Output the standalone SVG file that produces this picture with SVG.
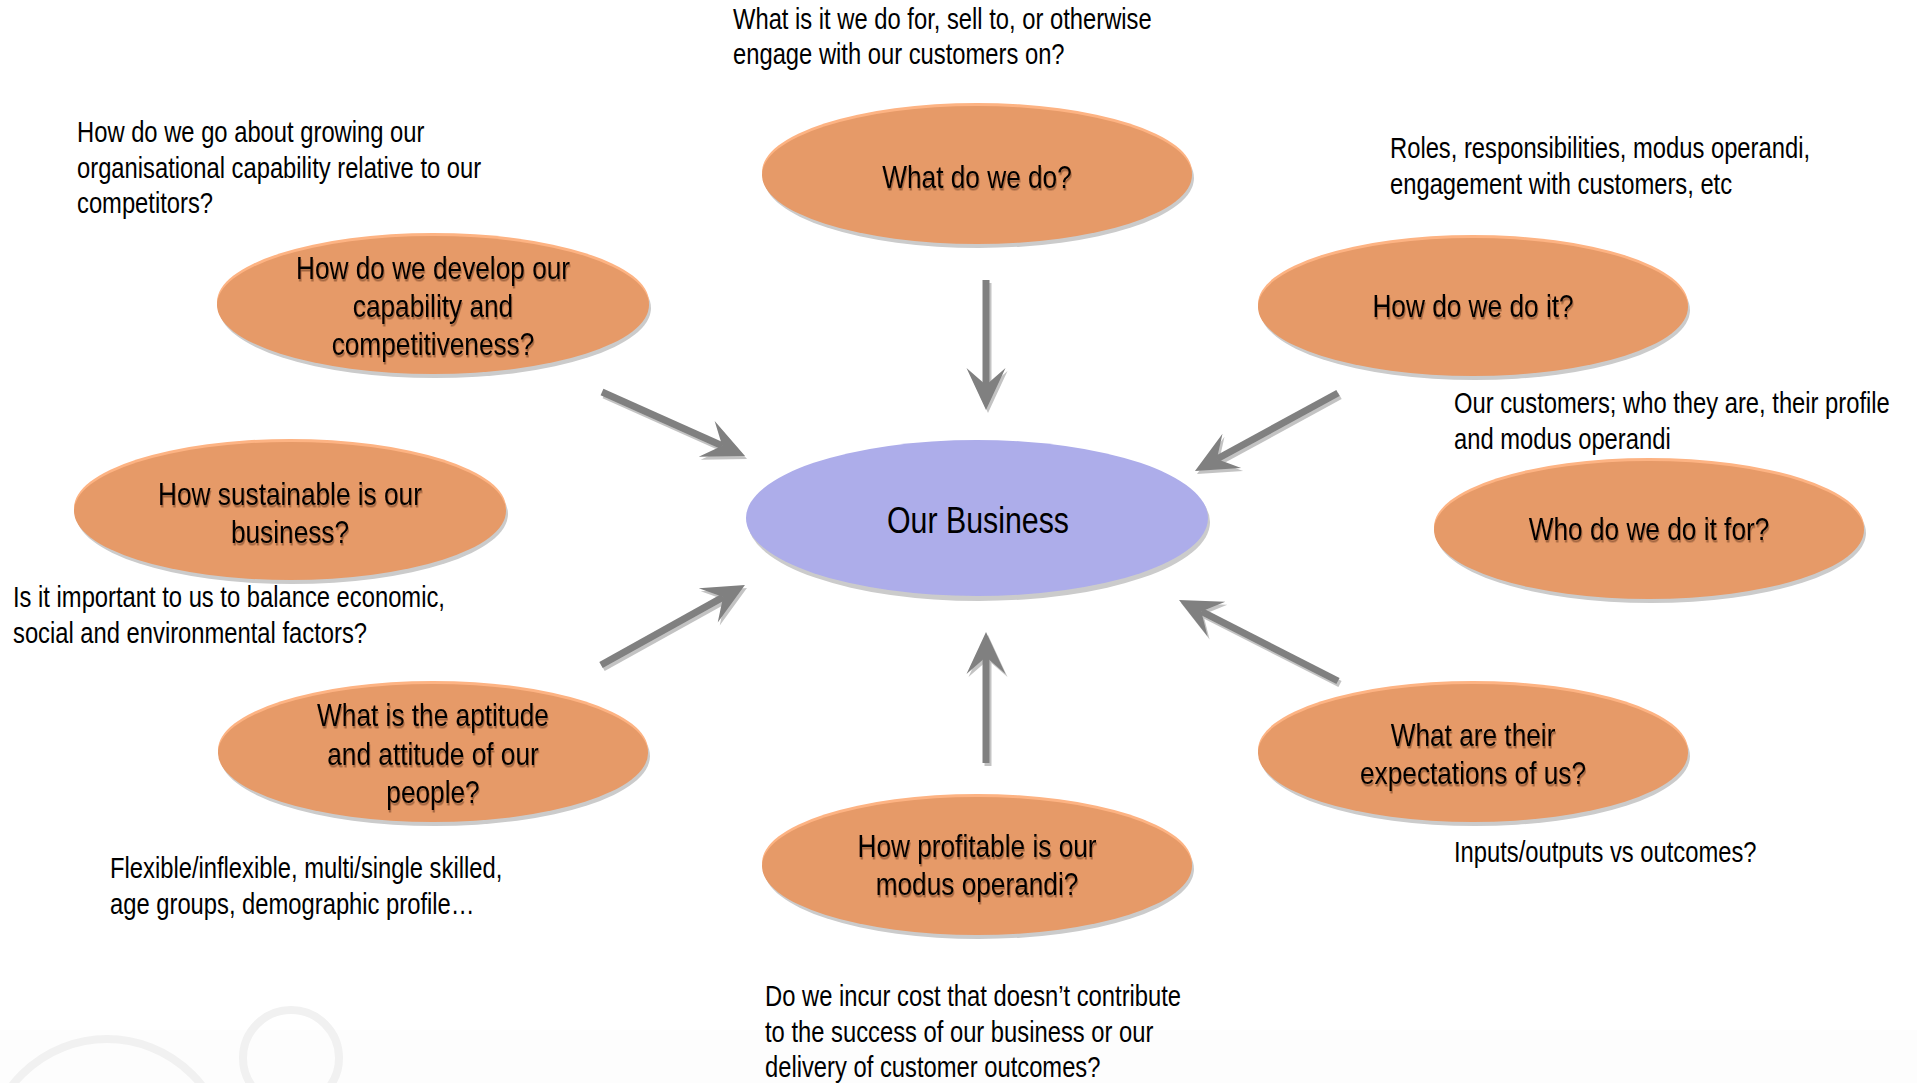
<svg xmlns="http://www.w3.org/2000/svg" width="1917" height="1083" viewBox="0 0 1917 1083">
<style>
.t{font-family:"Liberation Sans",Arial,sans-serif;font-size:29px;fill:#000}
.q{font-family:"Liberation Sans",Arial,sans-serif;font-size:32px;fill:#000;text-anchor:middle;filter:url(#ts)}
.c{font-family:"Liberation Sans",Arial,sans-serif;font-size:37px;fill:#000;text-anchor:middle}
.sh{fill:#cbcbcb}
.hl{fill:#fdb383}
.or{fill:#e69a68}
.bl{fill:#adadea}
.ar{stroke:#808080;stroke-width:7;fill:none;marker-end:url(#ah)}
.deco{fill:none;stroke:#f1f1f1;stroke-width:8}
</style>
<defs>
<marker id="ah" markerUnits="userSpaceOnUse" viewBox="-44 -22 46 44" refX="-25" refY="0" markerWidth="46" markerHeight="44" orient="auto">
<path d="M0,0 L-42,-19.5 L-25,0 L-42,19.5 Z" fill="#808080"/>
</marker>
<filter id="as" x="-20%" y="-20%" width="140%" height="140%">
<feDropShadow dx="2" dy="3" stdDeviation="0.6" flood-color="#b4b4b4" flood-opacity="0.8"/>
</filter>
<filter id="ts" x="-10%" y="-20%" width="120%" height="160%">
<feDropShadow dx="1" dy="2.5" stdDeviation="0.7" flood-color="#6b3b1b" flood-opacity="0.55"/>
</filter>
</defs>
<rect width="1917" height="1083" fill="#ffffff"/>
<rect x="0" y="1030" width="1917" height="53" fill="#fdfdfd"/>
<g id="decoration">
<circle class="deco" cx="291" cy="1058" r="48"/>
<circle class="deco" cx="107" cy="1159" r="120"/>
</g>
<g id="connectors" filter="url(#as)">
<line class="ar" x1="986" y1="280" x2="986" y2="385"/>
<line class="ar" x1="602" y1="392" x2="722.2" y2="445.8"/>
<line class="ar" x1="1338" y1="393" x2="1216.9" y2="459"/>
<line class="ar" x1="601" y1="665" x2="723.1" y2="597.1"/>
<line class="ar" x1="986" y1="763" x2="986" y2="657"/>
<line class="ar" x1="1338" y1="681" x2="1201.3" y2="611.4"/>
</g>
<g id="center">
<ellipse class="sh" cx="979" cy="522" rx="231" ry="79"/>
<ellipse class="bl" cx="977" cy="518" rx="231" ry="78"/>
<text class="c" transform="translate(978,533) scale(0.82,1)">Our Business</text>
</g>
<g id="n-what">
<ellipse class="sh" cx="979" cy="178" rx="215" ry="70"/>
<ellipse class="hl" cx="977" cy="172" rx="215" ry="69"/>
<ellipse class="or" cx="977" cy="175" rx="215" ry="69"/>
<text class="q" transform="translate(977,188) scale(0.82,1)">What do we do?</text>
</g>
<g id="n-how">
<ellipse class="sh" cx="1475" cy="310" rx="215" ry="70"/>
<ellipse class="hl" cx="1473" cy="304" rx="215" ry="69"/>
<ellipse class="or" cx="1473" cy="307" rx="215" ry="69"/>
<text class="q" transform="translate(1473,317) scale(0.82,1)">How do we do it?</text>
</g>
<g id="n-who">
<ellipse class="sh" cx="1651" cy="533" rx="215" ry="70"/>
<ellipse class="hl" cx="1649" cy="527" rx="215" ry="69"/>
<ellipse class="or" cx="1649" cy="530" rx="215" ry="69"/>
<text class="q" transform="translate(1649,540) scale(0.82,1)">Who do we do it for?</text>
</g>
<g id="n-expect">
<ellipse class="sh" cx="1475" cy="756" rx="215" ry="70"/>
<ellipse class="hl" cx="1473" cy="750" rx="215" ry="69"/>
<ellipse class="or" cx="1473" cy="753" rx="215" ry="69"/>
<text class="q" transform="translate(1473,746) scale(0.82,1)">What are their</text>
<text class="q" transform="translate(1473,784) scale(0.82,1)">expectations of us?</text>
</g>
<g id="n-profit">
<ellipse class="sh" cx="979" cy="869" rx="215" ry="70"/>
<ellipse class="hl" cx="977" cy="863" rx="215" ry="69"/>
<ellipse class="or" cx="977" cy="866" rx="215" ry="69"/>
<text class="q" transform="translate(977,857) scale(0.82,1)">How profitable is our</text>
<text class="q" transform="translate(977,895) scale(0.82,1)">modus operandi?</text>
</g>
<g id="n-people">
<ellipse class="sh" cx="435" cy="756" rx="215" ry="70"/>
<ellipse class="hl" cx="433" cy="750" rx="215" ry="69"/>
<ellipse class="or" cx="433" cy="753" rx="215" ry="69"/>
<text class="q" transform="translate(433,726) scale(0.82,1)">What is the aptitude</text>
<text class="q" transform="translate(433,765) scale(0.82,1)">and attitude of our</text>
<text class="q" transform="translate(433,803) scale(0.82,1)">people?</text>
</g>
<g id="n-sustain">
<ellipse class="sh" cx="292" cy="514" rx="216" ry="70"/>
<ellipse class="hl" cx="290" cy="508" rx="216" ry="69"/>
<ellipse class="or" cx="290" cy="511" rx="216" ry="69"/>
<text class="q" transform="translate(290,505) scale(0.82,1)">How sustainable is our</text>
<text class="q" transform="translate(290,543) scale(0.82,1)">business?</text>
</g>
<g id="n-develop">
<ellipse class="sh" cx="435" cy="308" rx="216" ry="70"/>
<ellipse class="hl" cx="433" cy="302" rx="216" ry="69"/>
<ellipse class="or" cx="433" cy="305" rx="216" ry="69"/>
<text class="q" transform="translate(433,279) scale(0.82,1)">How do we develop our</text>
<text class="q" transform="translate(433,317) scale(0.82,1)">capability and</text>
<text class="q" transform="translate(433,355) scale(0.82,1)">competitiveness?</text>
</g>
<g id="notes">
<text class="t" transform="translate(733,29) scale(0.82,1)">What is it we do for, sell to, or otherwise</text>
<text class="t" transform="translate(733,64) scale(0.82,1)">engage with our customers on?</text>
<text class="t" transform="translate(77,142) scale(0.82,1)">How do we go about growing our</text>
<text class="t" transform="translate(77,178) scale(0.82,1)">organisational capability relative to our</text>
<text class="t" transform="translate(77,213) scale(0.82,1)">competitors?</text>
<text class="t" transform="translate(1390,158) scale(0.82,1)">Roles, responsibilities, modus operandi,</text>
<text class="t" transform="translate(1390,194) scale(0.82,1)">engagement with customers, etc</text>
<text class="t" transform="translate(1454,413) scale(0.82,1)">Our customers; who they are, their profile</text>
<text class="t" transform="translate(1454,449) scale(0.82,1)">and modus operandi</text>
<text class="t" transform="translate(13,607) scale(0.82,1)">Is it important to us to balance economic,</text>
<text class="t" transform="translate(13,643) scale(0.82,1)">social and environmental factors?</text>
<text class="t" transform="translate(110,878) scale(0.82,1)">Flexible/inflexible, multi/single skilled,</text>
<text class="t" transform="translate(110,914) scale(0.82,1)">age groups, demographic profile…</text>
<text class="t" transform="translate(1454,862) scale(0.82,1)">Inputs/outputs vs outcomes?</text>
<text class="t" transform="translate(765,1006) scale(0.82,1)">Do we incur cost that doesn’t contribute</text>
<text class="t" transform="translate(765,1042) scale(0.82,1)">to the success of our business or our</text>
<text class="t" transform="translate(765,1077) scale(0.82,1)">delivery of customer outcomes?</text>
</g>
</svg>
